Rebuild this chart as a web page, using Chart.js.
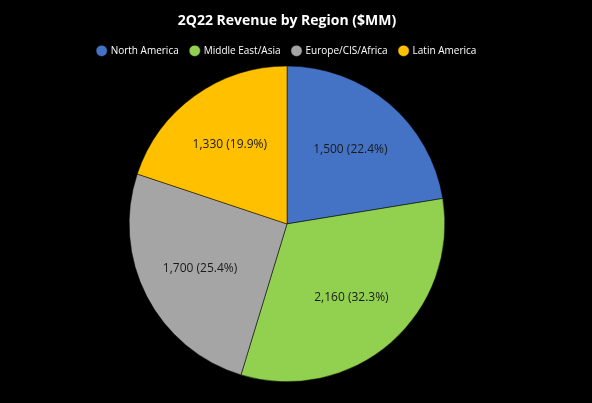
<!DOCTYPE html>
<html><head><script src="https://cdn.jsdelivr.net/npm/chart.js"></script>
<style>html,body{margin:0;background:#000;}#w{width:592px;height:403px;}</style></head>
<body><div id="w"><canvas id="c"></canvas></div>
<script>
const categories=["North America","Middle East/Asia","Europe/CIS/Africa","Latin America"];
const values=[1500,2160,1700,1330];
const colors=["#4472C4","#92D050","#A5A5A5","#FFC000"];
const total=values.reduce((a,b)=>a+b,0);
const labelPlugin={id:'lbl',afterDatasetsDraw(chart){
 const ctx=chart.ctx;const meta=chart.getDatasetMeta(0);
 ctx.save();ctx.font='12px "Open Sans", Calibri, sans-serif';ctx.fillStyle='#1a1a1a';ctx.textAlign='center';ctx.textBaseline='middle';
 meta.data.forEach((a,i)=>{const m=(a.startAngle+a.endAngle)/2;const r=a.outerRadius*0.62;
  const t=values[i].toLocaleString('en-US')+' ('+(values[i]/total*100).toFixed(1)+'%)';
  ctx.fillText(t,a.x+Math.cos(m)*r,a.y+Math.sin(m)*r);});
 ctx.restore();}};
new Chart(document.getElementById('c'),{type:'pie',
 data:{labels:categories,datasets:[{data:values,backgroundColor:colors,borderColor:'#000',borderWidth:0.5}]},
 options:{responsive:true,maintainAspectRatio:false,animation:false,
  layout:{padding:{top:9,bottom:21,right:18}},
  plugins:{title:{display:true,text:'2Q22 Revenue by Region ($MM)',color:'#fff',font:{size:14,weight:'bold',family:'"Open Sans", sans-serif'},padding:{top:4,bottom:4}},
   legend:{labels:{color:'#fff',usePointStyle:true,pointStyle:'circle',boxWidth:8,boxHeight:8,font:{size:10,family:'"Open Sans", sans-serif'},padding:12}},
   tooltip:{enabled:false}}},
 plugins:[labelPlugin]});
</script></body></html>
